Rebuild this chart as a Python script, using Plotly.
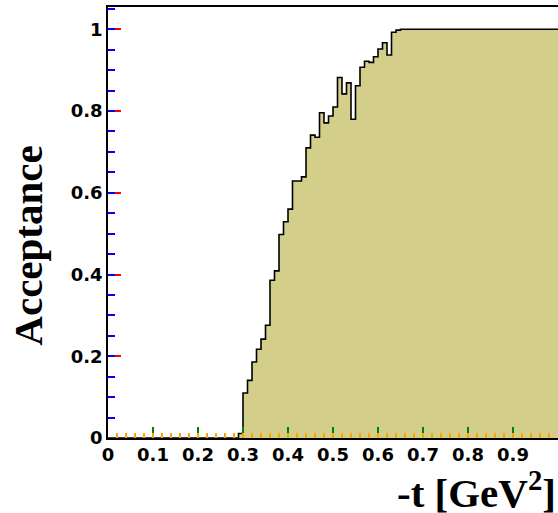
import plotly.graph_objects as go

# Histogram: -t bins of width 0.01 from 0.00 to 1.00
bin_start = 0.0
bin_width = 0.01
acceptance = (
    [0.0] * 29
    + [0.011, 0.110, 0.141, 0.186, 0.217, 0.242, 0.276, 0.386, 0.409, 0.498,
       0.529, 0.560, 0.629, 0.629, 0.639, 0.710, 0.741, 0.736, 0.796, 0.771,
       0.788, 0.810, 0.882, 0.842, 0.869, 0.780, 0.862, 0.907, 0.922, 0.919,
       0.933, 0.952, 0.967, 0.937, 0.993, 0.998]
    + [1.0] * 35
)
x_tick_vals = [0, 0.1, 0.2, 0.3, 0.4, 0.5, 0.6, 0.7, 0.8, 0.9, 1.0]
x_tick_text = ["0", "0.1", "0.2", "0.3", "0.4", "0.5", "0.6", "0.7", "0.8", "0.9", "1"]
y_tick_vals = [0, 0.2, 0.4, 0.6, 0.8, 1.0]
y_tick_text = ["0", "0.2", "0.4", "0.6", "0.8", "1"]
x_max = 1.0
y_max = 1.0546

n = len(acceptance)
edges = [bin_start + i * bin_width for i in range(n + 1)]
xs = edges
ys = acceptance + [acceptance[-1]]

W, H = 558, 513
L, R, T, B = 108, 0, 7, 75

x_minor = [round(i * 0.02, 4) for i in range(51)]
y_minor = [round(i * 0.05, 4) for i in range(22)]

fig = go.Figure()
fig.add_trace(go.Scatter(
    x=xs, y=ys, mode="lines", line=dict(shape="hv", color="black", width=1.6),
    fill="tozeroy", fillcolor="rgb(211,207,139)", hoverinfo="skip", showlegend=False,
))
fig.add_trace(go.Scatter(x=[0], y=[0], xaxis="x2", yaxis="y2", mode="markers",
                         marker=dict(size=0, opacity=0), hoverinfo="skip", showlegend=False))

tickfont = dict(family="DejaVu Sans", size=18, color="black")
titlefont = dict(family="Liberation Serif", size=41, color="black")

fig.update_layout(
    width=W, height=H,
    margin=dict(l=L, r=R, t=T, b=B, pad=0),
    paper_bgcolor="white", plot_bgcolor="white",
    xaxis=dict(
        range=[0, x_max], showgrid=False, zeroline=False,
        showline=True, linecolor="black", linewidth=1.6, mirror=True,
        ticks="inside", ticklen=11, tickwidth=2, tickcolor="green",
        tickmode="array", tickvals=x_tick_vals, ticktext=[f"<b>{t}</b>" for t in x_tick_text],
        tickfont=tickfont,
    ),
    yaxis=dict(
        range=[0, y_max], showgrid=False, zeroline=False,
        showline=True, linecolor="black", linewidth=1.6,
        ticks="inside", ticklen=13, tickwidth=2, tickcolor="red",
        tickmode="array", tickvals=y_tick_vals, ticktext=[f"<b>{t}</b>" for t in y_tick_text],
        tickfont=tickfont,
    ),
    xaxis2=dict(
        range=[0, x_max], overlaying="x", anchor="y", side="bottom",
        showgrid=False, zeroline=False, showline=False,
        ticks="inside", ticklen=5.5, tickwidth=1.5, tickcolor="orange",
        tickmode="array", tickvals=x_minor, showticklabels=False,
    ),
    yaxis2=dict(
        range=[0, y_max], overlaying="y", anchor="x", side="left",
        showgrid=False, zeroline=False, showline=False,
        ticks="inside", ticklen=7, tickwidth=1.5, tickcolor="blue",
        tickmode="array", tickvals=y_minor, showticklabels=False,
    ),
    annotations=[
        dict(text="<b>Acceptance</b>", textangle=-90, x=-0.178, y=0.446,
             xref="paper", yref="paper", showarrow=False, xanchor="center", yanchor="middle",
             font=titlefont),
        dict(text="<b>-t [GeV<sup>2</sup>]</b>", x=0.6378, y=-0.12,
             xref="paper", yref="paper", showarrow=False, xanchor="left", yanchor="middle",
             font=titlefont),
    ],
)

fig.write_html("out.html")
